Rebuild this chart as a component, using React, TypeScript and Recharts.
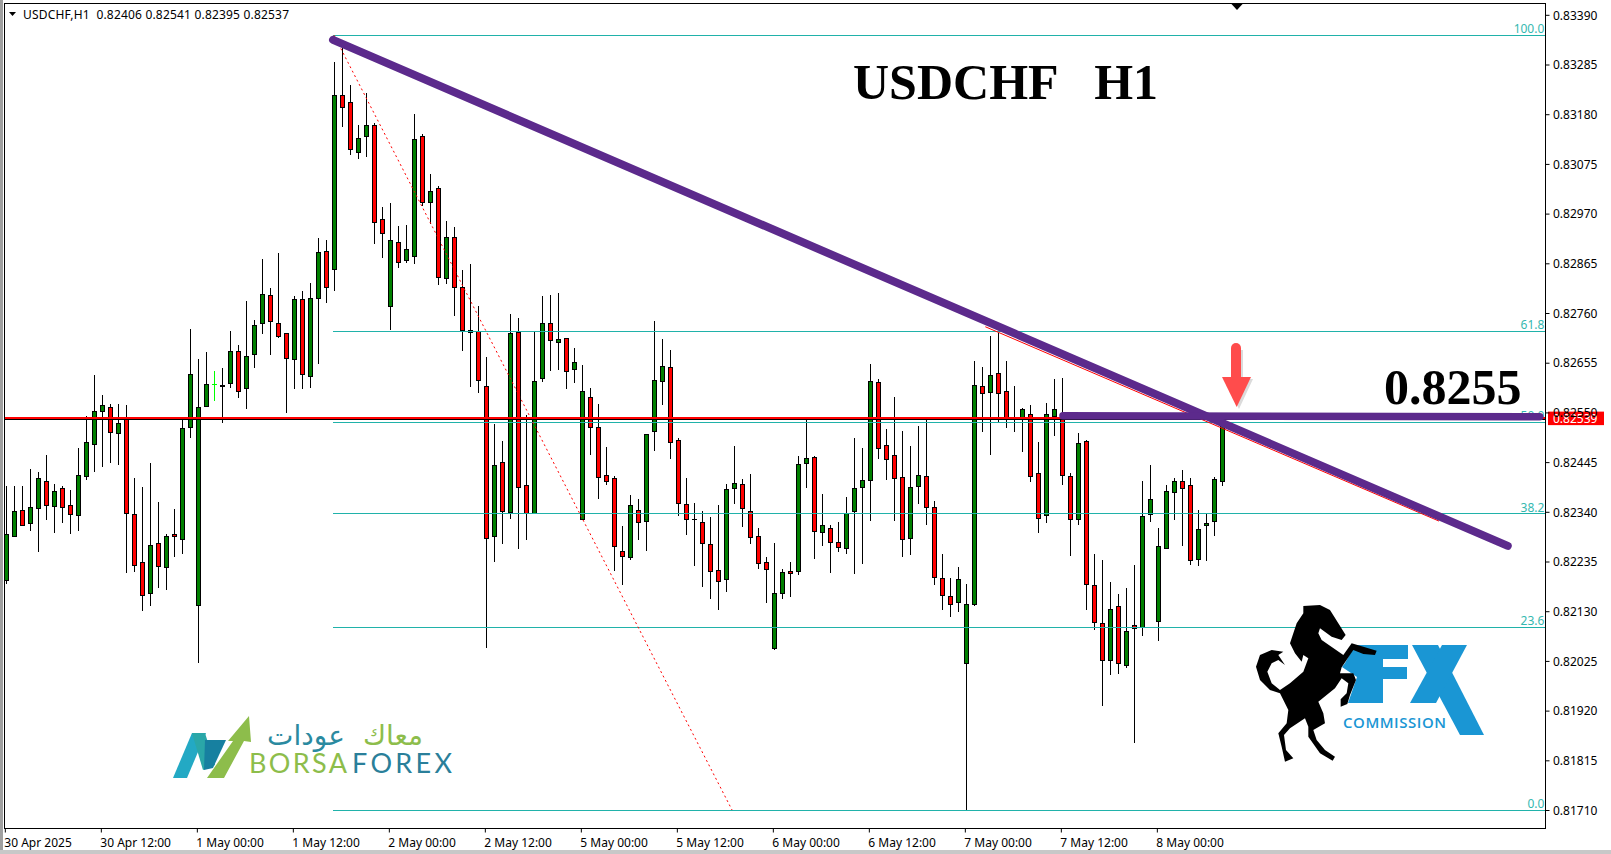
import React from 'react';
import { ComposedChart, Bar, XAxis, YAxis, ReferenceLine } from 'recharts';

// USDCHF H1, values
const opens = [
  0.82195, 0.82288, 0.82344, 0.82316, 0.82348, 0.82405, 0.82352, 0.82390, 0.82354, 0.82333,
  0.82415, 0.82483, 0.82552, 0.82562, 0.82506, 0.82536, 0.82336, 0.82234, 0.82168, 0.82274,
  0.82223, 0.82293, 0.82282, 0.82519, 0.82143, 0.82563, 0.82610, 0.82606, 0.82612, 0.82680,
  0.82601, 0.82673, 0.82738, 0.82798, 0.82739, 0.82718, 0.82662, 0.82790, 0.82626, 0.82791,
  0.82891, 0.82853, 0.83220, 0.83206, 0.83100, 0.83134, 0.83158, 0.82959, 0.82774, 0.82910,
  0.82872, 0.82880, 0.83134, 0.82994, 0.83024, 0.82834, 0.82921, 0.82815, 0.82720, 0.82722,
  0.82606, 0.82288, 0.82445, 0.82339, 0.82720, 0.82397, 0.82338, 0.82622, 0.82739, 0.82698,
  0.82707, 0.82641, 0.82325, 0.82583, 0.82519, 0.82418, 0.82412, 0.82257, 0.82244, 0.82344,
  0.82320, 0.82510, 0.82616, 0.82646, 0.82492, 0.82357, 0.82325, 0.82319, 0.82272, 0.82217,
  0.82198, 0.82390, 0.82399, 0.82342, 0.82289, 0.82234, 0.82053, 0.82168, 0.82215, 0.82216,
  0.82443, 0.82456, 0.82297, 0.82306, 0.82276, 0.82263, 0.82341, 0.82392, 0.82407, 0.82614,
  0.82481, 0.82460, 0.82414, 0.82284, 0.82394, 0.82416, 0.82350, 0.82200, 0.82162, 0.82149,
  0.82020, 0.82145, 0.82606, 0.82593, 0.82634, 0.82595, 0.82540, 0.82540, 0.82546, 0.82422,
  0.82333, 0.82542, 0.82549, 0.82416, 0.82324, 0.82490, 0.82186, 0.82105, 0.82026, 0.82141,
  0.82016, 0.82101, 0.82097, 0.82336, 0.82109, 0.82263, 0.82381, 0.82405, 0.82397, 0.82240,
  0.82312, 0.82320, 0.82406,
];
const closes = [
  0.82293, 0.82342, 0.82312, 0.82350, 0.82412, 0.82354, 0.82384, 0.82350, 0.82335, 0.82418,
  0.82488, 0.82553, 0.82566, 0.82509, 0.82528, 0.82337, 0.82227, 0.82164, 0.82270, 0.82225,
  0.82289, 0.82288, 0.82517, 0.82631, 0.82562, 0.82611, 0.82610, 0.82608, 0.82680, 0.82595,
  0.82669, 0.82735, 0.82800, 0.82743, 0.82711, 0.82664, 0.82790, 0.82631, 0.82792, 0.82889,
  0.82814, 0.83221, 0.83195, 0.83106, 0.83130, 0.83158, 0.82952, 0.82929, 0.82915, 0.82867,
  0.82896, 0.83128, 0.82995, 0.83018, 0.82836, 0.82921, 0.82815, 0.82724, 0.82724, 0.82618,
  0.82284, 0.82439, 0.82341, 0.82718, 0.82392, 0.82338, 0.82617, 0.82739, 0.82702, 0.82705,
  0.82637, 0.82657, 0.82595, 0.82519, 0.82413, 0.82405, 0.82267, 0.82246, 0.82355, 0.82318,
  0.82505, 0.82619, 0.82648, 0.82487, 0.82358, 0.82324, 0.82325, 0.82274, 0.82214, 0.82193,
  0.82388, 0.82401, 0.82348, 0.82286, 0.82231, 0.82219, 0.82169, 0.82213, 0.82210, 0.82441,
  0.82454, 0.82299, 0.82312, 0.82276, 0.82265, 0.82337, 0.82390, 0.82407, 0.82617, 0.82475,
  0.82451, 0.82411, 0.82282, 0.82393, 0.82418, 0.82350, 0.82202, 0.82164, 0.82145, 0.82198,
  0.82145, 0.82608, 0.82591, 0.82629, 0.82591, 0.82540, 0.82536, 0.82557, 0.82415, 0.82326,
  0.82547, 0.82557, 0.82417, 0.82324, 0.82486, 0.82187, 0.82107, 0.82026, 0.82135, 0.82020,
  0.82088, 0.82094, 0.82331, 0.82367, 0.82268, 0.82384, 0.82405, 0.82390, 0.82238, 0.82304,
  0.82317, 0.82409, 0.82537,
];
const highs = [
  0.82396, 0.82396, 0.82396, 0.82431, 0.82426, 0.82461, 0.82399, 0.82395, 0.82388, 0.82475,
  0.82543, 0.82630, 0.82588, 0.82568, 0.82569, 0.82567, 0.82412, 0.82393, 0.82445, 0.82361,
  0.82294, 0.82348, 0.82534, 0.82727, 0.82663, 0.82679, 0.82638, 0.82644, 0.82723, 0.82693,
  0.82786, 0.82746, 0.82875, 0.82814, 0.82888, 0.82718, 0.82798, 0.82807, 0.82824, 0.82919,
  0.82915, 0.83291, 0.83338, 0.83243, 0.83158, 0.83226, 0.83162, 0.82985, 0.82993, 0.82945,
  0.82947, 0.83181, 0.83139, 0.83055, 0.83029, 0.82955, 0.82943, 0.82852, 0.82865, 0.82776,
  0.82669, 0.82526, 0.82490, 0.82759, 0.82750, 0.82545, 0.82721, 0.82797, 0.82799, 0.82803,
  0.82709, 0.82688, 0.82651, 0.82602, 0.82569, 0.82478, 0.82417, 0.82311, 0.82376, 0.82368,
  0.82505, 0.82744, 0.82707, 0.82683, 0.82498, 0.82412, 0.82359, 0.82343, 0.82330, 0.82355,
  0.82400, 0.82480, 0.82410, 0.82421, 0.82307, 0.82245, 0.82276, 0.82221, 0.82236, 0.82459,
  0.82538, 0.82460, 0.82378, 0.82314, 0.82319, 0.82372, 0.82496, 0.82476, 0.82653, 0.82621,
  0.82516, 0.82583, 0.82512, 0.82480, 0.82522, 0.82538, 0.82363, 0.82252, 0.82201, 0.82224,
  0.82188, 0.82660, 0.82647, 0.82712, 0.82719, 0.82660, 0.82607, 0.82560, 0.82566, 0.82488,
  0.82570, 0.82622, 0.82623, 0.82424, 0.82507, 0.82492, 0.82252, 0.82239, 0.82193, 0.82167,
  0.82180, 0.82228, 0.82406, 0.82440, 0.82306, 0.82397, 0.82412, 0.82429, 0.82412, 0.82344,
  0.82338, 0.82414, 0.82541,
];
const lows = [
  0.82188, 0.82288, 0.82312, 0.82300, 0.82256, 0.82324, 0.82296, 0.82317, 0.82294, 0.82300,
  0.82408, 0.82425, 0.82436, 0.82444, 0.82440, 0.82212, 0.82214, 0.82131, 0.82142, 0.82180,
  0.82176, 0.82245, 0.82252, 0.82497, 0.82021, 0.82563, 0.82575, 0.82529, 0.82603, 0.82582,
  0.82558, 0.82645, 0.82717, 0.82672, 0.82708, 0.82550, 0.82600, 0.82600, 0.82602, 0.82653,
  0.82782, 0.82807, 0.83154, 0.83095, 0.83086, 0.83091, 0.82907, 0.82877, 0.82725, 0.82856,
  0.82867, 0.82865, 0.82988, 0.82950, 0.82820, 0.82822, 0.82755, 0.82681, 0.82605, 0.82592,
  0.82054, 0.82235, 0.82273, 0.82326, 0.82262, 0.82281, 0.82338, 0.82615, 0.82638, 0.82640,
  0.82600, 0.82613, 0.82325, 0.82461, 0.82368, 0.82398, 0.82216, 0.82186, 0.82239, 0.82281,
  0.82258, 0.82469, 0.82567, 0.82452, 0.82332, 0.82292, 0.82226, 0.82182, 0.82157, 0.82133,
  0.82171, 0.82357, 0.82309, 0.82273, 0.82220, 0.82148, 0.82049, 0.82157, 0.82161, 0.82207,
  0.82391, 0.82241, 0.82269, 0.82212, 0.82256, 0.82252, 0.82210, 0.82231, 0.82321, 0.82452,
  0.82408, 0.82321, 0.82245, 0.82250, 0.82357, 0.82313, 0.82186, 0.82133, 0.82119, 0.82129,
  0.81710, 0.82143, 0.82510, 0.82462, 0.82531, 0.82519, 0.82510, 0.82467, 0.82404, 0.82296,
  0.82317, 0.82501, 0.82398, 0.82248, 0.82313, 0.82133, 0.82091, 0.81931, 0.81996, 0.81998,
  0.82012, 0.81852, 0.82078, 0.82319, 0.82068, 0.82263, 0.82324, 0.82269, 0.82228, 0.82226,
  0.82238, 0.82290, 0.82395,
];

const timeLabels = [
  '30 Apr 2025', '30 Apr 12:00', '1 May 00:00', '1 May 12:00', '2 May 00:00', '2 May 12:00', '5 May 00:00',
  '5 May 12:00', '6 May 00:00', '6 May 12:00', '7 May 00:00', '7 May 12:00', '8 May 00:00',
];
const priceTicks = [
  0.8339, 0.83285, 0.8318, 0.83075, 0.8297, 0.82865, 0.8276, 0.82655, 0.8255, 0.82445, 0.8234, 0.82235, 0.8213,
  0.82025, 0.8192, 0.81815, 0.8171,
];
const fibLevels = [
  { label: '100.0', price: 0.83348 },
  { label: '61.8', price: 0.82723 },
  { label: '50.0', price: 0.8253 },
  { label: '38.2', price: 0.82337 },
  { label: '23.6', price: 0.82097 },
  { label: '0.0', price: 0.81711 },
];
const BARS_PER_LABEL = 12;
const bidPrice = 0.82539;
const askLine = 0.82537;
const limeBar = 26;

const candles = opens.map((open, i) => ({
  idx: i,
  open,
  close: closes[i],
  high: highs[i],
  low: lows[i],
  range: [lows[i], highs[i]],
}));

const FONT = '"Noto Sans", sans-serif';
const TEAL = '#20b2aa';
const PURPLE = '#5c2a8c';

function Candle(props: any) {
  const { x, y, width, height, payload } = props;
  const cx = Math.round(x + width / 2) + 0.5;
  const perUnit = Math.abs(height) / (payload.high - payload.low);
  const top = Math.min(y, y + height);
  const yOf = (v: number) => top + (payload.high - v) * perUnit;
  const bodyTop = yOf(Math.max(payload.open, payload.close));
  const bodyBot = yOf(Math.min(payload.open, payload.close));

  if (payload.open === payload.close) {
    const col = payload.idx === limeBar ? '#00ff00' : '#000000';
    return (
      <g shapeRendering="crispEdges">
        <line x1={cx} x2={cx} y1={top} y2={top + Math.abs(height)} stroke={col} />
        <line x1={cx - 2.5} x2={cx + 2.5} y1={bodyTop} y2={bodyTop} stroke={col} />
      </g>
    );
  }
  return (
    <g shapeRendering="crispEdges">
      <line x1={cx} x2={cx} y1={top} y2={top + Math.abs(height)} stroke="#000" />
      <rect
        x={cx - 2}
        y={bodyTop}
        width={4}
        height={Math.max(bodyBot - bodyTop, 1)}
        fill={payload.close > payload.open ? '#008000' : '#ff0000'}
        stroke="#000"
      />
    </g>
  );
}

function TimeTick({ x, y, payload }: any) {
  return (
    <text x={x - 1} y={y + 12} fontSize={12} fontFamily={FONT} fill="#000" textAnchor="start">
      {timeLabels[payload.value / BARS_PER_LABEL]}
    </text>
  );
}

function BidTag({ viewBox }: any) {
  const yy = viewBox.y;
  return (
    <g>
      <rect x={1548} y={yy - 6.5} width={56} height={13.5} fill="#ff0000" />
      <text x={1553} y={yy + 4.5} fontSize={12} fontFamily={FONT} fill="#fff">
        {bidPrice.toFixed(5)}
      </text>
    </g>
  );
}

const fibLabel = (text: string) => (p: any) => (
  <text
    x={p.viewBox.x + p.viewBox.width - 1}
    y={p.viewBox.y - 2}
    fontSize={12}
    fontFamily={FONT}
    fill="#35b8b0"
    textAnchor="end"
  >
    {text}
  </text>
);

// horse traced by hand, in 3x units, placed by the transform below
const HORSE =
  '280,78 330,75 360,90 385,130 407,165 395,180 365,170 330,145 325,160 335,180 400,225 425,190 460,200 500,212 495,225 460,222 430,210 395,262 390,280 430,280 438,300 420,345 412,372 392,380 392,358 410,340 415,310 395,295 375,325 325,365 340,400 345,430 310,450 320,480 345,510 375,530 368,542 330,520 295,470 295,440 285,415 240,445 222,465 228,510 250,535 225,545 215,500 205,460 230,430 235,390 210,340 180,330 150,300 138,260 150,225 185,210 220,215 205,225 225,255 205,240 185,250 172,275 185,310 210,330 240,310 280,275 295,235 280,225 275,245 255,220 240,190 260,130 280,100';

function Overlay() {
  return (
    <svg width={1611} height={854} style={{ position: 'absolute', left: 0, top: 0 }}>
      {/* window chrome and chart frame */}
      <rect x={0} y={0} width={3} height={854} fill="#a0a0a0" />
      <rect x={0} y={850} width={1611} height={4} fill="#c8c8c8" />
      <rect x={4.5} y={3.5} width={1541} height={825} fill="none" stroke="#000" />

      {/* header */}
      <polygon points="9,12 16,12 12.5,16" fill="#000" />
      <text x={23} y={19} fontSize={12} fontFamily={FONT} fill="#000" textLength={266} style={{ whiteSpace: 'pre' }}>
        USDCHF,H1  0.82406 0.82541 0.82395 0.82537
      </text>
      <polygon points="1231,3.5 1243,3.5 1237,10" fill="#000" />

      {/* annotations */}
      <text x={853} y={99} fontSize={50} fontWeight={700} fontFamily='"Liberation Serif", serif' fill="#000" style={{ whiteSpace: 'pre' }}>
        USDCHF   H1
      </text>
      <text x={1384} y={404} fontSize={50} fontWeight={700} fontFamily='"Liberation Serif", serif' fill="#000">
        0.8255
      </text>
      <g>
        <polygon points="1233,350 1243,350 1243,379 1253,379 1239,409 1224,379 1233,379" fill="#999" opacity={0.35} />
        <rect x={1231} y={343} width={10} height={40} rx={5} fill="#ff4c4c" />
        <polygon points="1222,377 1251,377 1236.7,407" fill="#ff4c4c" />
      </g>

      {/* borsaforex logo */}
      <polygon points="173,778 192,733 206,733 187,778" fill="#23a9c4" />
      <polygon points="192,733 205,733 215,765 203,770" fill="#2aa7a8" />
      <polygon points="205,740 226,740 213,768 204,770" fill="#1780a0" />
      <polygon points="207,778 233,741 228,741 249,716 251,742 244,741 224,778" fill="#8dbd4b" />
      <text x={306} y={745} fontSize={28} fontFamily='"DejaVu Sans", sans-serif' fill="#2a8aa0" textAnchor="middle" direction="rtl">
        عودات
      </text>
      <text x={393} y={745} fontSize={28} fontFamily='"DejaVu Sans", sans-serif' fill="#8dbd4b" textAnchor="middle" direction="rtl">
        معاك
      </text>
      <text x={249} y={773} fontSize={27} fontFamily="Lato, sans-serif" fill="#8dbd4b" textLength={98}>
        BORSA
      </text>
      <text x={352} y={773} fontSize={27} fontFamily="Lato, sans-serif" fill="#2a7f9a" textLength={100}>
        FOREX
      </text>

      {/* fx commission logo */}
      <polygon
        points="1345,663 1355,645 1408,645 1408,659 1383,659 1383,667 1407,667 1407,679 1383,679 1383,703 1348,703 1357,677 1342,667"
        fill="#1a96d4"
      />
      <polygon points="1412,645 1438,645 1484,735 1460,735" fill="#1a96d4" />
      <polygon points="1442,645 1467,645 1436,703 1410,703" fill="#1a96d4" />
      <text x={1343} y={728} fontSize={15} fontWeight={600} fontFamily='"Open Sans", sans-serif' fill="#1a96d4" textLength={103}>
        COMMISSION
      </text>
      <g transform="translate(1210,580) scale(0.3333)">
        <polygon points={HORSE} fill="#000" />
      </g>
    </svg>
  );
}

export default function App() {
  return (
    <div style={{ position: 'absolute', left: 0, top: 0, width: 1611, height: 854, background: '#fff', overflow: 'hidden' }}>
      <ComposedChart
        width={1611}
        height={854}
        data={candles}
        margin={{ top: 3, left: 4, right: 0, bottom: 0 }}
      >
        <XAxis
          dataKey="idx"
          type="number"
          domain={[-0.166, 192.52]}
          allowDataOverflow
          ticks={timeLabels.map((_, i) => i * BARS_PER_LABEL)}
          interval={0}
          height={25.5}
          tickSize={4}
          stroke="#000"
          tick={<TimeTick />}
        />
        <YAxis
          orientation="right"
          type="number"
          domain={[0.81672, 0.83416]}
          allowDataOverflow
          ticks={priceTicks}
          interval={0}
          width={65.5}
          tickSize={4}
          tickMargin={3.5}
          stroke="#000"
          tick={{ fontSize: 12, fontFamily: FONT, fill: '#000' }}
          tickFormatter={(v: number) => v.toFixed(5)}
        />
        <Bar dataKey="range" barSize={5} shape={<Candle />} isAnimationActive={false} />

        {fibLevels.map((f) => (
          <ReferenceLine
            key={f.label}
            segment={[
              { x: 41, y: f.price },
              { x: 192.5, y: f.price },
            ]}
            stroke={TEAL}
            shapeRendering="crispEdges"
            label={fibLabel(f.label)}
          />
        ))}
        <ReferenceLine
          segment={[
            { x: 41.08, y: 0.83348 },
            { x: 90.84, y: 0.81711 },
          ]}
          stroke="#ff0000"
          strokeDasharray="2 3"
        />
        <ReferenceLine y={askLine} stroke="#000" shapeRendering="crispEdges" />
        <ReferenceLine y={bidPrice} stroke="#ff0000" strokeWidth={1.5} shapeRendering="crispEdges" label={<BidTag />} />
        <ReferenceLine
          segment={[
            { x: 122.5, y: 0.82732 },
            { x: 179.2, y: 0.823215 },
          ]}
          stroke="#ff0000"
        />
        <ReferenceLine
          segment={[
            { x: 40.96, y: 0.83338 },
            { x: 187.8, y: 0.82269 },
          ]}
          stroke={PURPLE}
          strokeWidth={8}
          strokeLinecap="round"
        />
        <ReferenceLine
          segment={[
            { x: 132.2, y: 0.82544 },
            { x: 191.8, y: 0.82542 },
          ]}
          stroke={PURPLE}
          strokeWidth={7.5}
          strokeLinecap="round"
        />
      </ComposedChart>
      <Overlay />
    </div>
  );
}
